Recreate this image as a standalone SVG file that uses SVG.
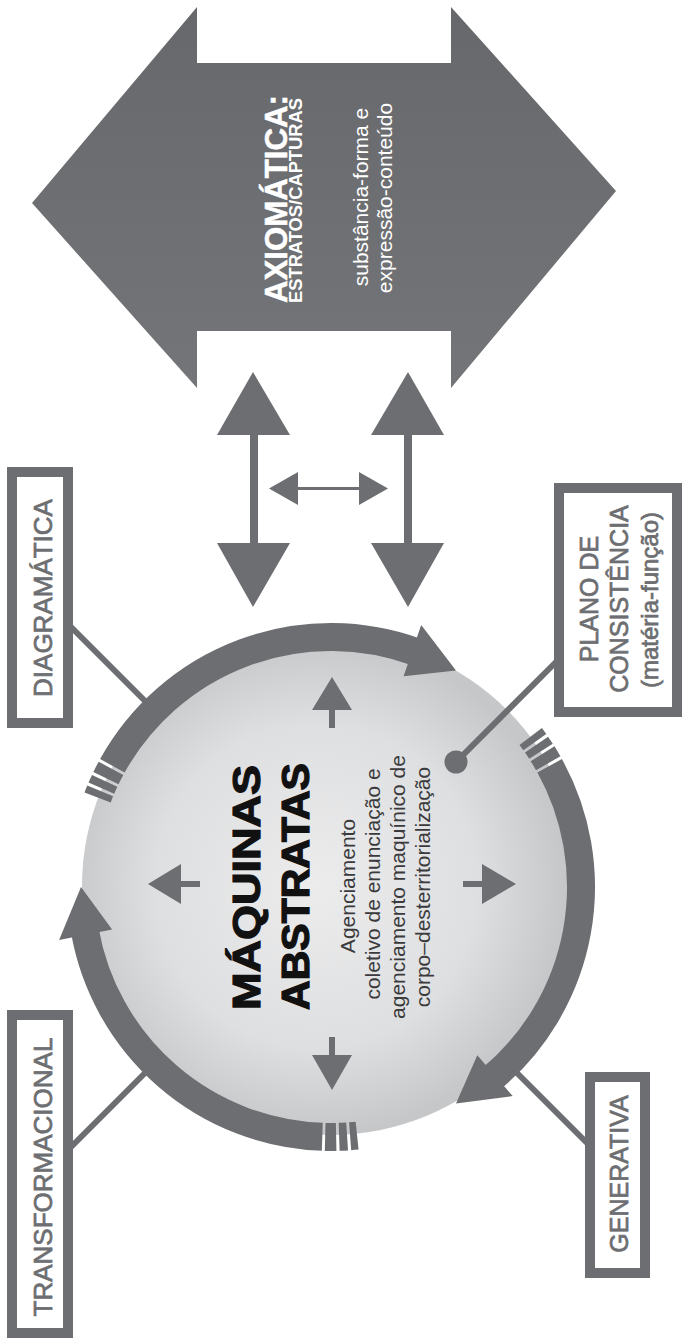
<svg xmlns="http://www.w3.org/2000/svg" width="683" height="1343" viewBox="0 0 683 1343">
<defs>
<radialGradient id="disc" cx="0.47" cy="0.5" r="0.5">
<stop offset="0" stop-color="#ececed"/>
<stop offset="0.65" stop-color="#dedfe0"/>
<stop offset="1" stop-color="#c6c7c9"/>
</radialGradient>
<linearGradient id="big" x1="0" y1="0" x2="0" y2="1">
<stop offset="0" stop-color="#67686b"/>
<stop offset="1" stop-color="#747578"/>
</linearGradient>
<style>
.g{fill:#6d6e71}
.ring{fill:none;stroke:#6d6e71;stroke-width:28}
.tick{fill:none;stroke:#6d6e71;stroke-width:28;stroke-dasharray:7 3 8 3 11 3}
.box{fill:#fff;stroke:#6d6e71;stroke-width:10}
.lbl{font-family:"Liberation Sans",Arial,sans-serif;fill:#6d6e71;stroke:#6d6e71;stroke-width:0.7;text-anchor:middle}
.ln{stroke:#6d6e71;stroke-width:6;fill:none}
.t{font-family:"Liberation Sans",Arial,sans-serif}
</style>
</defs>
<rect width="683" height="1343" fill="#fff"/>

<g id="axiomatica">
<polygon points="32,203 197,7 197,63 451,63 451,7 616,191 451,388 451,331 197,331 197,388" fill="url(#big)"/>
<text class="t" transform="translate(287,303) rotate(-90)" font-size="32" font-weight="bold" fill="#fff" stroke="#fff" stroke-width="0.5" textLength="208" lengthAdjust="spacingAndGlyphs">AXIOMÁTICA:</text>
<text class="t" transform="translate(302,303) rotate(-90)" font-size="18" font-weight="bold" fill="#fff" textLength="205" lengthAdjust="spacingAndGlyphs">ESTRATOS/CAPTURAS</text>
<text class="t" transform="translate(368,197) rotate(-90)" font-size="21" fill="#fff" text-anchor="middle">substância-forma e</text>
<text class="t" transform="translate(392,198) rotate(-90)" font-size="21" fill="#fff" text-anchor="middle">expressão-conteúdo</text>
</g>

<g id="maquinas">
<circle cx="331" cy="886" r="249" fill="url(#disc)"/>
<path class="ring" d="M 112.35 765.8 A 250 250 0 0 1 416.5 652.1"/>
<polygon class="g" points="403.6,676.2 421.2,625.1 456,670.5"/>
<path class="ring" d="M 549.65 765.8 A 250 250 0 0 1 491.7 1078.5"/>
<polygon class="g" points="477.3,1055.3 512.7,1096.1 456,1103.5"/>
<path class="ring" d="M 322.3 1136.8 A 250 250 0 0 1 84.8 930.4"/>
<polygon class="g" points="112.1,929.5 59.1,939.9 81,887"/>
<path class="tick" d="M 97.6 797.4 A 250 250 0 0 1 112.35 765.8"/>
<path class="tick" d="M 530.7 736.5 A 250 250 0 0 1 549.65 765.8"/>
<path class="tick" d="M 357.1 1135.6 A 250 250 0 0 1 322.3 1136.8"/>
<g class="g">
<polygon points="312,710 332,677 352,710"/><rect x="329" y="709" width="6" height="19"/>
<polygon points="312,1055 332,1090 352,1055"/><rect x="329" y="1037" width="6" height="19"/>
<polygon points="181,864 148,884 181,904"/><rect x="180" y="881" width="20" height="6"/>
<polygon points="482,864 516,884 482,904"/><rect x="463" y="881" width="20" height="6"/>
</g>
<text class="t" transform="translate(260,1010) rotate(-90)" font-size="38" font-weight="bold" fill="#111" stroke="#111" stroke-width="1.2" textLength="245" lengthAdjust="spacingAndGlyphs">MÁQUINAS</text>
<text class="t" transform="translate(309,1010) rotate(-90)" font-size="38" font-weight="bold" fill="#111" stroke="#111" stroke-width="1.2" textLength="247" lengthAdjust="spacingAndGlyphs">ABSTRATAS</text>
<g class="t" font-size="21" fill="#3a3a3c" text-anchor="middle">
<text transform="translate(355,886) rotate(-90)">Agenciamento</text>
<text transform="translate(380,884) rotate(-90)">coletivo de enunciação e</text>
<text transform="translate(405,887) rotate(-90)">agenciamento maquínico de</text>
<text transform="translate(430,887) rotate(-90)">corpo–desterritorialização</text>
</g>
<circle class="g" cx="456" cy="762" r="11.5"/>
</g>

<g id="diagramatica">
<rect class="box" x="12" y="472" width="56" height="251"/>
<text class="lbl" transform="translate(52,598) rotate(-90)" font-size="26">DIAGRAMÁTICA</text>
</g>
<g id="transformacional">
<rect class="box" x="12" y="1015" width="56" height="318"/>
<text class="lbl" transform="translate(52,1177) rotate(-90)" font-size="26">TRANSFORMACIONAL</text>
</g>
<g id="generativa">
<rect class="box" x="590" y="1077" width="55" height="196"/>
<text class="lbl" transform="translate(628,1174) rotate(-90)" font-size="25">GENERATIVA</text>
</g>
<g id="plano">
<rect class="box" x="559" y="488" width="118" height="224"/>
<text class="lbl" transform="translate(598,599) rotate(-90)" font-size="25">PLANO DE</text>
<text class="lbl" transform="translate(628,599) rotate(-90)" font-size="25">CONSISTÊNCIA</text>
<text class="lbl" transform="translate(658,600) rotate(-90)" font-size="24" stroke-width="0.2">(matéria-função)</text>
</g>

<g id="connectors">
<line class="ln" x1="70" y1="626" x2="145" y2="701"/>
<line class="ln" x1="70" y1="1148" x2="145" y2="1073"/>
<line class="ln" x1="588" y1="1144" x2="517" y2="1073"/>
<line class="ln" x1="456" y1="762" x2="556" y2="662"/>
<g class="g">
<polygon points="217,435 253,372 290,435"/><rect x="250" y="434" width="8" height="110"/><polygon points="217,543 253,607 290,543"/>
<polygon points="371,435 408,372 444,435"/><rect x="404" y="434" width="8" height="110"/><polygon points="371,543 408,607 444,543"/>
<polygon points="298,472 269,488.5 298,505"/><rect x="297" y="487" width="63" height="3"/><polygon points="359,472 388,488.5 359,505"/>
</g>
</g>
</svg>
